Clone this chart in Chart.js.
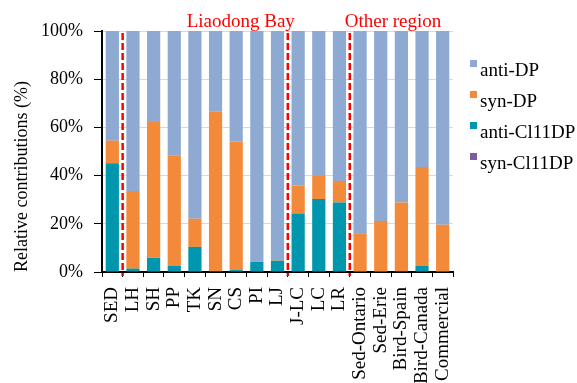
<!DOCTYPE html>
<html>
<head>
<meta charset="utf-8">
<script src="https://cdn.jsdelivr.net/npm/chart.js@4"></script>
<style>
  body { margin: 0; background: #fff; }
  #wrap { width: 577px; height: 383px; position: relative; }
</style>
</head>
<body>
<div id="wrap"><canvas id="dpChart"></canvas></div>
<script>
// sites / samples along the x axis
const sites = ['SED', 'LH', 'SH', 'PP', 'TK', 'SN', 'CS', 'PI', 'LJ', 'J-LC', 'LC', 'LR',
  'Sed-Ontario', 'Sed-Erie', 'Bird-Spain', 'Bird-Canada', 'Commercial'];

// relative contributions (%)
const synCl11DP  = [0, 0, 0, 0, 0, 0, 0, 0, 0, 0, 0.3, 0, 0, 0, 0, 0, 0];
const antiCl11DP = [45.1, 1.4, 5.9, 2.5, 10.4, 0.4, 0.8, 4.2, 4.7, 24.3, 30.0, 28.8, 0, 0, 0.4, 2.5, 0];
const synDP      = [9.4, 32.2, 56.3, 45.9, 11.7, 66.3, 53.3, 0.3, 0.2, 11.5, 9.9, 9.0, 16.1, 21.2, 28.4, 41.1, 19.6];
const antiDP     = [45.5, 66.4, 37.8, 51.6, 77.9, 33.3, 45.9, 95.5, 95.1, 64.2, 59.8, 62.2, 83.9, 78.8, 71.2, 56.4, 80.4];

const yTicks = [0, 20, 40, 60, 80, 100];

// region dividers sit after these category indexes
const dividerAfter = [0, 8, 11];
const regionLabels = ['Liaodong Bay', 'Other region'];

const serif = "'Liberation Serif', 'Times New Roman', serif";

const overlayPlugin = {
    id: 'overlay',
    afterDatasetsDraw(chart) {
        const { ctx, chartArea, scales: { x } } = chart;
        const divX = dividerAfter.map(i => (x.getPixelForValue(i) + x.getPixelForValue(i + 1)) / 2);

        ctx.save();
        ctx.strokeStyle = '#ff0000';
        ctx.lineWidth = 2.5;
        ctx.setLineDash([7, 3]);
        divX.forEach(px => {
            ctx.beginPath();
            ctx.moveTo(px, chartArea.top + 2);
            ctx.lineTo(px, chartArea.bottom + 4);
            ctx.stroke();
        });
        ctx.restore();

        // red region titles above the plot
        ctx.save();
        ctx.fillStyle = '#ff0000';
        ctx.font = '19px ' + serif;
        ctx.textBaseline = 'alphabetic';
        ctx.textAlign = 'right';
        ctx.fillText(regionLabels[0], divX[1] + 7, 27);
        ctx.textAlign = 'left';
        ctx.fillText(regionLabels[1], divX[2] - 5, 27);
        ctx.restore();
    },
    afterDraw(chart) {
        // legend on the right, top series first
        const { ctx } = chart;
        const items = chart.data.datasets.slice().reverse();
        ctx.save();
        ctx.font = '19px ' + serif;
        ctx.textBaseline = 'alphabetic';
        ctx.textAlign = 'left';
        items.forEach((ds, i) => {
            const base = 76 + i * 31;
            ctx.fillStyle = ds.backgroundColor;
            ctx.fillRect(470, base - 16, 7, 7);
            ctx.fillStyle = '#000';
            ctx.fillText(ds.label, 480, base);
        });
        ctx.restore();
    }
};

new Chart(document.getElementById('dpChart').getContext('2d'), {
    type: 'bar',
    data: {
        labels: sites,
        datasets: [
            { label: 'syn-Cl11DP', data: synCl11DP, backgroundColor: '#7d5ba0' },
            { label: 'anti-Cl11DP', data: antiCl11DP, backgroundColor: '#0097ae' },
            { label: 'syn-DP', data: synDP, backgroundColor: '#f28a3a' },
            { label: 'anti-DP', data: antiDP, backgroundColor: '#8eaad2' }
        ]
    },
    options: {
        responsive: true,
        maintainAspectRatio: false,
        animation: false,
        layout: { padding: { top: 31, right: 124, left: 0, bottom: 0 } },
        datasets: { bar: { barPercentage: 0.64, categoryPercentage: 1, borderWidth: 0 } },
        plugins: {
            legend: { display: false },
            tooltip: { enabled: false }
        },
        scales: {
            x: {
                stacked: true,
                afterFit: scale => { scale.height = 111; },
                border: { display: true, color: '#000', width: 2 },
                grid: { drawOnChartArea: false, drawTicks: true, tickLength: 5, color: '#000', offset: true },
                ticks: {
                    color: '#000',
                    font: { family: serif, size: 19 },
                    minRotation: 90,
                    maxRotation: 90,
                    autoSkip: false,
                    padding: 10
                }
            },
            y: {
                stacked: true,
                min: 0,
                max: 100,
                afterFit: scale => { scale.width = 102; },
                afterBuildTicks: scale => { scale.ticks = yTicks.map(v => ({ value: v })); },
                border: { display: true, color: '#000', width: 2 },
                grid: { color: '#d9d9d9', lineWidth: 1, tickColor: '#000', tickLength: 8 },
                ticks: {
                    color: '#000',
                    font: { family: serif, size: 18 },
                    padding: 11,
                    callback: v => v + '%'
                },
                title: {
                    display: true,
                    text: 'Relative contributions (%)',
                    align: 'start',
                    color: '#000',
                    font: { family: serif, size: 18 },
                    padding: { top: 11, bottom: 0 }
                }
            }
        }
    },
    plugins: [overlayPlugin]
});
</script>
</body>
</html>
